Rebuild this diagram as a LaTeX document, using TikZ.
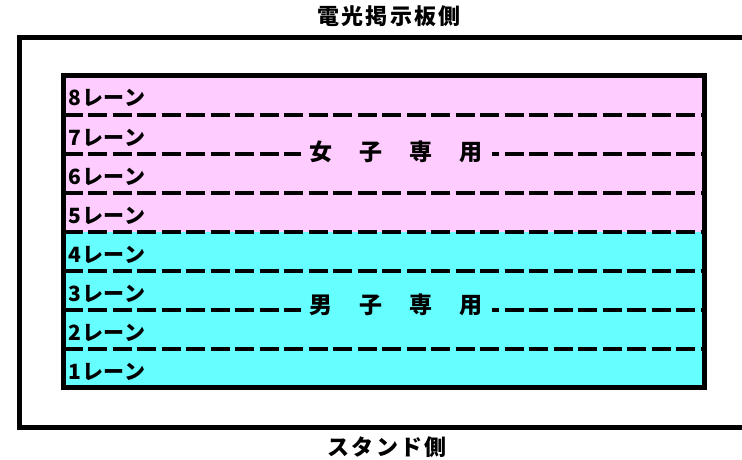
\documentclass[tikz,border=0pt]{standalone}
\usepackage{fontspec}
\newfontfamily\jp{Noto Sans CJK JP}
\definecolor{pinkc}{HTML}{FFCCFF}
\definecolor{cyanc}{HTML}{66FFFF}
\begin{document}
\begin{tikzpicture}[x=1pt,y=-1pt,
  thickbox/.style={line width=5pt},
  laneline/.style={line width=4pt,dash pattern=on 19pt off 5.5pt},
  lanelabel/.style={anchor=base west,inner sep=0pt,font=\jp\bfseries\fontsize{21}{21}\selectfont\addfontfeature{LetterSpace=3}},
  sidelabel/.style={anchor=base,inner sep=0pt,font=\jp\bfseries\fontsize{22}{22}\selectfont\addfontfeature{LetterSpace=10}},
  grouplabel/.style={anchor=base,inner sep=0pt,inner xsep=9pt,outer sep=0pt,minimum height=20pt,font=\jp\bfseries\fontsize{23}{23}\selectfont}]
\useasboundingbox (0,0) rectangle (742,460);
\fill[white] (0,0) rectangle (742,460);
% outer field
\draw[thickbox] (19.5,37.5) rectangle (752,427.5);
% lanes
\coordinate (tl) at (63.5,75.5);
\coordinate (br) at (704.5,387.5);
\fill[pinkc] (63.5,75.5) rectangle (704.5,231.5);
\fill[cyanc] (63.5,231.5) rectangle (704.5,387.5);
\foreach \i/\y in {1/114.5,2/153.5,3/192.5,4/231.5,5/270.5,6/309.5,7/348.5}{
  \coordinate (l\i) at (63.5,\y);
  \coordinate (r\i) at (704.5,\y);
  \draw[laneline] (l\i) -- (r\i);
}
\foreach \n/\y in {8/106,7/145,6/184,5/223,4/262,3/301,2/340,1/379}{
  \node[lanelabel] (lane\n) at (68.5,\y) {\n{}レーン};
}
\node[grouplabel,fill=pinkc] (women) at (396,160) {女\hspace{27pt}子\hspace{27pt}専\hspace{27pt}用};
\node[grouplabel,fill=cyanc] (men) at (396,313) {男\hspace{27pt}子\hspace{27pt}専\hspace{27pt}用};
\draw[thickbox] (tl) rectangle (br);
% side labels
\node[sidelabel] (board) at (389,25) {電光掲示板側};
\node[sidelabel] (stand) at (387,455) {スタンド側};
\end{tikzpicture}
\end{document}
